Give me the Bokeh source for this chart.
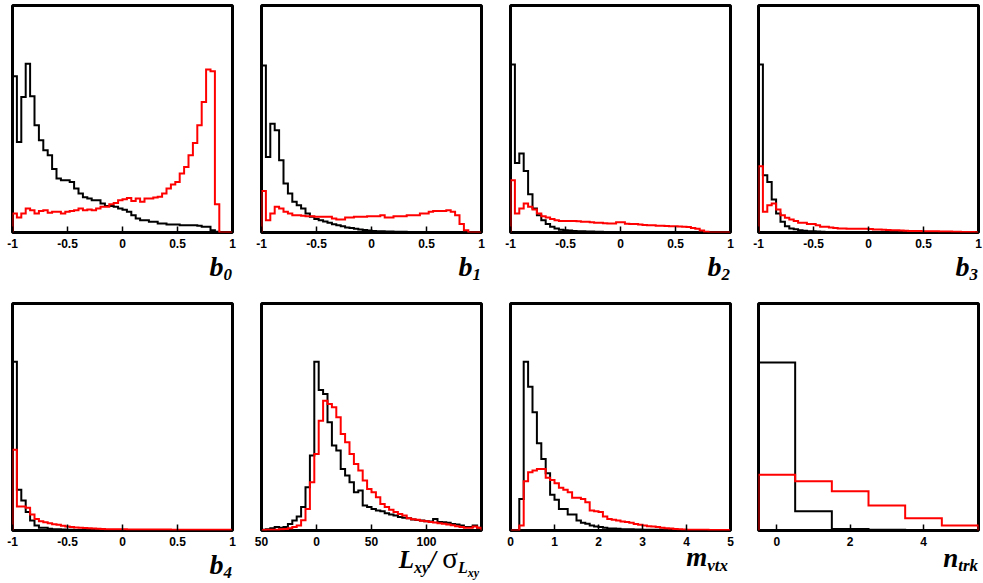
import numpy as np
from bokeh.plotting import figure
from bokeh.models import Range1d, FixedTicker, Div
from bokeh.layouts import column, row
from bokeh.embed import file_html
from bokeh.resources import INLINE

# ---------------- data (arbitrary units, frame height = 100) ----------------
b_ticks = [-1, -0.5, 0, 0.5, 1]
b_tick_labels = ["-1", "-0.5", "0", "0.5", "1"]
lxy_ticks = [-50, 0, 50, 100]
lxy_tick_labels = ["50", "0", "50", "100"]
mvtx_ticks = [0, 1, 2, 3, 4, 5]
mvtx_tick_labels = ["0", "1", "2", "3", "4", "5"]
ntrk_ticks = [0, 2, 4]
ntrk_tick_labels = ["0", "2", "4"]

b_lo, b_hi, b_nbins = -1.0, 1.0, 50
lxy_lo, lxy_hi, lxy_nbins = -50.0, 150.0, 50
mvtx_lo, mvtx_hi, mvtx_nbins = 0.0, 5.0, 50
ntrk_lo, ntrk_hi, ntrk_nbins = -0.5, 5.5, 6

b0_black = [68.8, 39.9, 59.7, 74.3, 60.0, 47.2, 40.6, 36.2, 34.0, 28.0,
            23.8, 23.0, 23.0, 22.3, 19.4, 17.2, 15.5, 15.0, 14.2, 14.2,
            12.8, 11.7, 11.7, 11.3, 10.6, 10.0, 9.1, 7.6, 6.2, 5.4,
            5.4, 4.7, 4.7, 4.0, 4.0, 3.5, 3.5, 3.5, 3.2, 3.2,
            3.2, 3.2, 3.0, 2.5, 2.5, 1.0, 0.3, 0.0, 0.0, 0.0]
b0_red = [8.4, 6.6, 8.4, 10.6, 9.8, 8.4, 9.5, 9.8, 8.7, 9.1,
          9.1, 8.4, 9.1, 9.5, 9.8, 10.6, 9.8, 10.1, 9.8, 10.6,
          11.3, 11.3, 12.5, 13.0, 14.2, 14.7, 15.2, 13.9, 15.0, 13.5,
          15.0, 15.0, 15.4, 15.7, 17.2, 19.4, 21.1, 22.3, 26.0, 28.9,
          34.0, 39.4, 47.2, 57.5, 71.8, 71.0, 12.5, 0.0, 0.0, 0.0]

b1_black = [73.6, 33.3, 47.9, 45.0, 31.8, 21.6, 17.2, 13.5, 12.0, 10.6,
            8.4, 6.9, 6.0, 5.4, 4.8, 4.3, 3.6, 3.2, 2.8, 2.2,
            2.0, 1.6, 1.3, 1.1, 0.9, 0.7, 0.6, 0.5, 0.4, 0.4,
            0.3, 0.3, 0.3, 0.2, 0.2, 0.2, 0.2, 0.2, 0.2, 0.2,
            0.2, 0.2, 0.2, 0.1, 0.1, 0.1, 0.1, 0.0, 0.0, 0.0]
b1_red = [18.3, 5.4, 8.4, 11.3, 10.6, 9.1, 8.4, 7.6, 7.6, 7.4,
          7.2, 7.2, 6.9, 6.9, 6.9, 6.9, 6.2, 5.7, 5.7, 6.6,
          6.6, 6.9, 6.9, 6.9, 7.2, 7.2, 7.2, 7.6, 6.6, 6.6,
          7.2, 7.2, 7.2, 7.6, 7.6, 7.6, 8.4, 8.4, 9.1, 9.5,
          9.5, 9.5, 9.8, 9.1, 7.6, 3.7, 1.0, 0.0, 0.0, 0.0]

b2_black = [74.0, 30.6, 34.8, 27.1, 16.9, 10.6, 7.6, 5.4, 3.7, 2.5,
            1.8, 1.2, 1.0, 0.9, 0.7, 0.6, 0.5, 0.4, 0.4, 0.3,
            0.3, 0.2, 0.2, 0.2, 0.2, 0.2, 0.2, 0.2, 0.2, 0.1,
            0.1, 0.1, 0.1, 0.1, 0.1, 0.1, 0.1, 0.1, 0.1, 0.1,
            0.1, 0.1, 0.1, 0.0, 0.0, 0.0, 0.0, 0.0, 0.0, 0.0]
b2_red = [23.0, 8.4, 10.6, 12.8, 11.3, 10.1, 8.4, 7.2, 6.6, 5.9,
          5.4, 5.1, 5.1, 5.1, 5.1, 5.0, 4.7, 4.7, 4.5, 4.3,
          4.3, 4.1, 4.0, 4.0, 4.5, 4.5, 3.8, 3.7, 3.7, 3.5,
          3.3, 3.2, 3.2, 3.0, 3.0, 2.9, 2.8, 2.8, 2.6, 2.5,
          2.4, 2.0, 1.6, 0.9, 0.3, 0.0, 0.0, 0.0, 0.0, 0.0]

b3_black = [74.0, 25.2, 22.3, 14.5, 8.4, 4.7, 2.8, 1.8, 1.4, 1.0,
            0.8, 0.6, 0.5, 0.4, 0.3, 0.2, 0.2, 0.2, 0.2, 0.2,
            0.1, 0.1, 0.1, 0.1, 0.1, 0.1, 0.1, 0.1, 0.1, 0.1,
            0.1, 0.1, 0.1, 0.1, 0.1, 0.0, 0.0, 0.0, 0.0, 0.0,
            0.0, 0.0, 0.0, 0.0, 0.0, 0.0, 0.0, 0.0, 0.0, 0.0]
b3_red = [29.2, 9.1, 12.0, 12.8, 10.1, 7.6, 6.5, 5.7, 5.1, 4.3,
          4.3, 3.7, 3.7, 3.2, 2.5, 2.5, 2.2, 2.0, 1.8, 1.8,
          1.7, 1.6, 1.6, 1.6, 1.6, 1.5, 1.3, 1.3, 1.2, 1.1,
          1.0, 1.0, 0.9, 0.8, 0.7, 0.7, 0.7, 0.6, 0.6, 0.5,
          0.5, 0.4, 0.4, 0.4, 0.3, 0.3, 0.2, 0.2, 0.2, 0.1]

b4_black = [74.3, 18.0, 13.2, 8.1, 4.4, 2.2, 1.2, 1.2, 0.8, 0.6,
            0.5, 0.4, 0.3, 0.3, 0.2, 0.2, 0.2, 0.2, 0.2, 0.2,
            0.1, 0.1, 0.1, 0.1, 0.1, 0.1, 0.1, 0.1, 0.1, 0.1,
            0.1, 0.1, 0.0, 0.0, 0.0, 0.0, 0.0, 0.0, 0.0, 0.0,
            0.0, 0.0, 0.0, 0.0, 0.0, 0.0, 0.0, 0.0, 0.0, 0.0]
b4_red = [35.6, 10.6, 10.6, 10.0, 7.0, 5.1, 4.1, 3.6, 3.2, 2.8,
          2.5, 2.1, 1.8, 1.5, 1.3, 1.2, 1.1, 1.0, 0.9, 0.8,
          0.7, 0.6, 0.6, 0.6, 0.6, 0.6, 0.4, 0.4, 0.4, 0.4,
          0.4, 0.4, 0.4, 0.4, 0.4, 0.4, 0.3, 0.3, 0.3, 0.3,
          0.3, 0.3, 0.3, 0.3, 0.3, 0.3, 0.3, 0.3, 0.3, 0.3]

lxy_black = [0.3, 0.6, 1.0, 1.5, 1.2, 1.5, 2.9, 4.4, 6.2, 10.3,
             19.1, 33.0, 74.3, 61.9, 60.1, 47.7, 37.4, 35.2, 27.1, 24.2,
             21.3, 16.9, 17.6, 11.0, 10.3, 9.5, 8.8, 8.5, 7.6, 7.0,
             6.6, 5.9, 5.6, 5.4, 4.8, 4.6, 4.4, 4.1, 4.0, 5.1,
             3.7, 3.6, 3.4, 2.9, 2.6, 2.2, 1.5, 1.5, 2.2, 1.2]
lxy_red = [0.2, 0.3, 0.3, 0.3, 0.5, 0.7, 1.0, 1.5, 2.2, 4.5,
           9.5, 21.3, 33.7, 48.4, 57.2, 55.7, 54.3, 49.9, 42.5, 38.9,
           33.7, 29.3, 26.4, 22.0, 18.3, 16.9, 14.7, 11.7, 10.3, 9.1,
           8.1, 7.3, 6.6, 5.4, 5.0, 4.7, 4.3, 4.1, 3.7, 3.5,
           3.2, 3.0, 2.6, 2.3, 1.9, 1.5, 1.2, 1.2, 1.8, 1.2]

mvtx_black = [0.0, 0.0, 13.9, 74.3, 63.3, 52.1, 38.4, 31.5, 25.2, 15.8,
              13.5, 9.5, 9.5, 7.0, 7.0, 4.4, 3.4, 3.0, 2.2, 1.8,
              1.5, 1.2, 0.9, 0.9, 0.8, 0.6, 0.6, 0.5, 0.4, 0.4,
              0.3, 0.3, 0.3, 0.3, 0.3, 0.2, 0.2, 0.2, 0.2, 0.2,
              0.1, 0.1, 0.1, 0.1, 0.1, 0.0, 0.0, 0.0, 0.0, 0.0]
mvtx_red = [0.0, 0.0, 2.2, 21.7, 25.7, 26.4, 27.1, 27.1, 23.2, 22.3,
            20.8, 18.8, 17.9, 16.9, 14.4, 14.4, 13.9, 12.5, 8.8, 8.5,
            8.1, 6.2, 5.1, 4.7, 4.4, 4.0, 3.7, 3.4, 2.9, 2.5,
            2.2, 1.9, 1.8, 1.5, 1.2, 1.0, 0.9, 0.7, 0.6, 0.4,
            0.3, 0.3, 0.3, 0.3, 0.3, 0.2, 0.2, 0.2, 0.2, 0.2]

ntrk_black = [74.0, 8.5, 0.7, 0.3, 0.15, 0.1]
ntrk_red = [24.6, 21.7, 17.3, 11.0, 5.4, 2.2]

# ---------------- axis titles (HTML with sub/sub-sub scripts) ----------------
FONT = "font-family:'Liberation Serif',serif;font-weight:bold;font-style:italic;"


def sub(text, size, drop):
    return (f'<span style="font-size:{size}px;position:relative;top:{drop}px">'
            f'{text}</span>')


def title_html(body, size, line_h, pad_right, width):
    return (f'<div style="{FONT}font-size:{size}px;line-height:{line_h}px;'
            f'display:block;width:{width}px;box-sizing:border-box;'
            f'text-align:right;padding-right:{pad_right}px;white-space:nowrap;'
            f'color:black">{body}</div>')


b_titles = ["b" + sub(str(i), 17, 4) for i in range(5)]
lxy_title = ("L" + sub("xy", 16, 5) + "/ "
             + '<span style="font-style:normal;font-weight:normal;font-size:29px">\u03c3</span>'
             + sub("L" + sub("xy", 12, 4), 16, 5))
mvtx_title = "m" + sub("vtx", 17, 5)
ntrk_title = "n" + sub("trk", 17, 4)


def outline(edges, vals):
    xs = np.repeat(edges, 2)
    ys = np.concatenate([[0.0], np.repeat(np.asarray(vals, dtype=float), 2), [0.0]])
    return xs, ys


AX_H = 22  # space under each frame for tick labels


def panel(lo, hi, nbins, black, red, ticks, tick_labels, width, ml, mr):
    p = figure(width=width, height=5 + 227 + AX_H,
               x_range=Range1d(lo, hi), y_range=Range1d(0, 100),
               output_backend="svg", toolbar_location=None,
               y_axis_location=None, title=None,
               min_border_left=ml, min_border_right=mr,
               min_border_top=5, min_border_bottom=AX_H)
    p.grid.grid_line_color = None
    p.background_fill_color = "white"
    p.border_fill_color = "white"
    p.outline_line_color = "black"
    p.outline_line_width = 3

    edges = np.linspace(lo, hi, nbins + 1)
    xb, yb = outline(edges, black)
    xr, yr = outline(edges, red)
    p.line(xb, yb, line_color="black", line_width=2, line_join="miter")
    p.line(xr, yr, line_color="#ff0000", line_width=2, line_join="miter")

    ax = p.xaxis[0]
    ax.ticker = FixedTicker(ticks=ticks)
    ax.major_label_overrides = {t: l for t, l in zip(ticks, tick_labels)}
    ax.major_tick_in = 6
    ax.major_tick_out = 0
    ax.minor_tick_in = 0
    ax.minor_tick_out = 0
    ax.major_tick_line_width = 1.5
    ax.major_tick_line_color = "black"
    ax.axis_line_color = None
    ax.major_label_text_font = "Liberation Sans"
    ax.major_label_text_font_style = "bold"
    ax.major_label_text_font_size = "12px"
    ax.major_label_text_color = "black"
    ax.major_label_standoff = 6
    return p


widths = [249, 249, 249, 236]
lefts = [12, 12, 12, 11]
rights = [17, 17, 17, 5]

top_specs = [
    (b_lo, b_hi, b_nbins, b0_black, b0_red, b_ticks, b_tick_labels),
    (b_lo, b_hi, b_nbins, b1_black, b1_red, b_ticks, b_tick_labels),
    (b_lo, b_hi, b_nbins, b2_black, b2_red, b_ticks, b_tick_labels),
    (b_lo, b_hi, b_nbins, b3_black, b3_red, b_ticks, b_tick_labels),
]
bot_specs = [
    (b_lo, b_hi, b_nbins, b4_black, b4_red, b_ticks, b_tick_labels),
    (lxy_lo, lxy_hi, lxy_nbins, lxy_black, lxy_red, lxy_ticks, lxy_tick_labels),
    (mvtx_lo, mvtx_hi, mvtx_nbins, mvtx_black, mvtx_red, mvtx_ticks, mvtx_tick_labels),
    (ntrk_lo, ntrk_hi, ntrk_nbins, ntrk_black, ntrk_red, ntrk_ticks, ntrk_tick_labels),
]
top_titles = [(b_titles[0], 28, 25, 17), (b_titles[1], 28, 25, 17),
              (b_titles[2], 28, 25, 17), (b_titles[3], 28, 25, 5)]
bot_titles = [(b_titles[4], 28, 25, 17), (lxy_title, 25, 12, 19),
              (mvtx_title, 27, 11, 19), (ntrk_title, 27, 12, 5)]

TOP_H, BOT_H = 298, 285


def cell(spec, ttl, i, total_h):
    p = panel(*spec, widths[i], lefts[i], rights[i])
    body, size, lh, pr = ttl
    d = Div(text=title_html(body, size, lh, pr, widths[i]), width=widths[i],
            height=total_h - (5 + 227 + AX_H), margin=0,
            styles={"overflow": "visible", "width": f"{widths[i]}px"})
    return column(p, d, spacing=0, margin=0)


top_row = row(*[cell(s, t, i, TOP_H) for i, (s, t) in enumerate(zip(top_specs, top_titles))],
              spacing=0, margin=0)
bot_row = row(*[cell(s, t, i, BOT_H) for i, (s, t) in enumerate(zip(bot_specs, bot_titles))],
              spacing=0, margin=0)
layout = column(top_row, bot_row, spacing=0, margin=0)

with open("out.html", "w") as f:
    f.write(file_html(layout, INLINE))
